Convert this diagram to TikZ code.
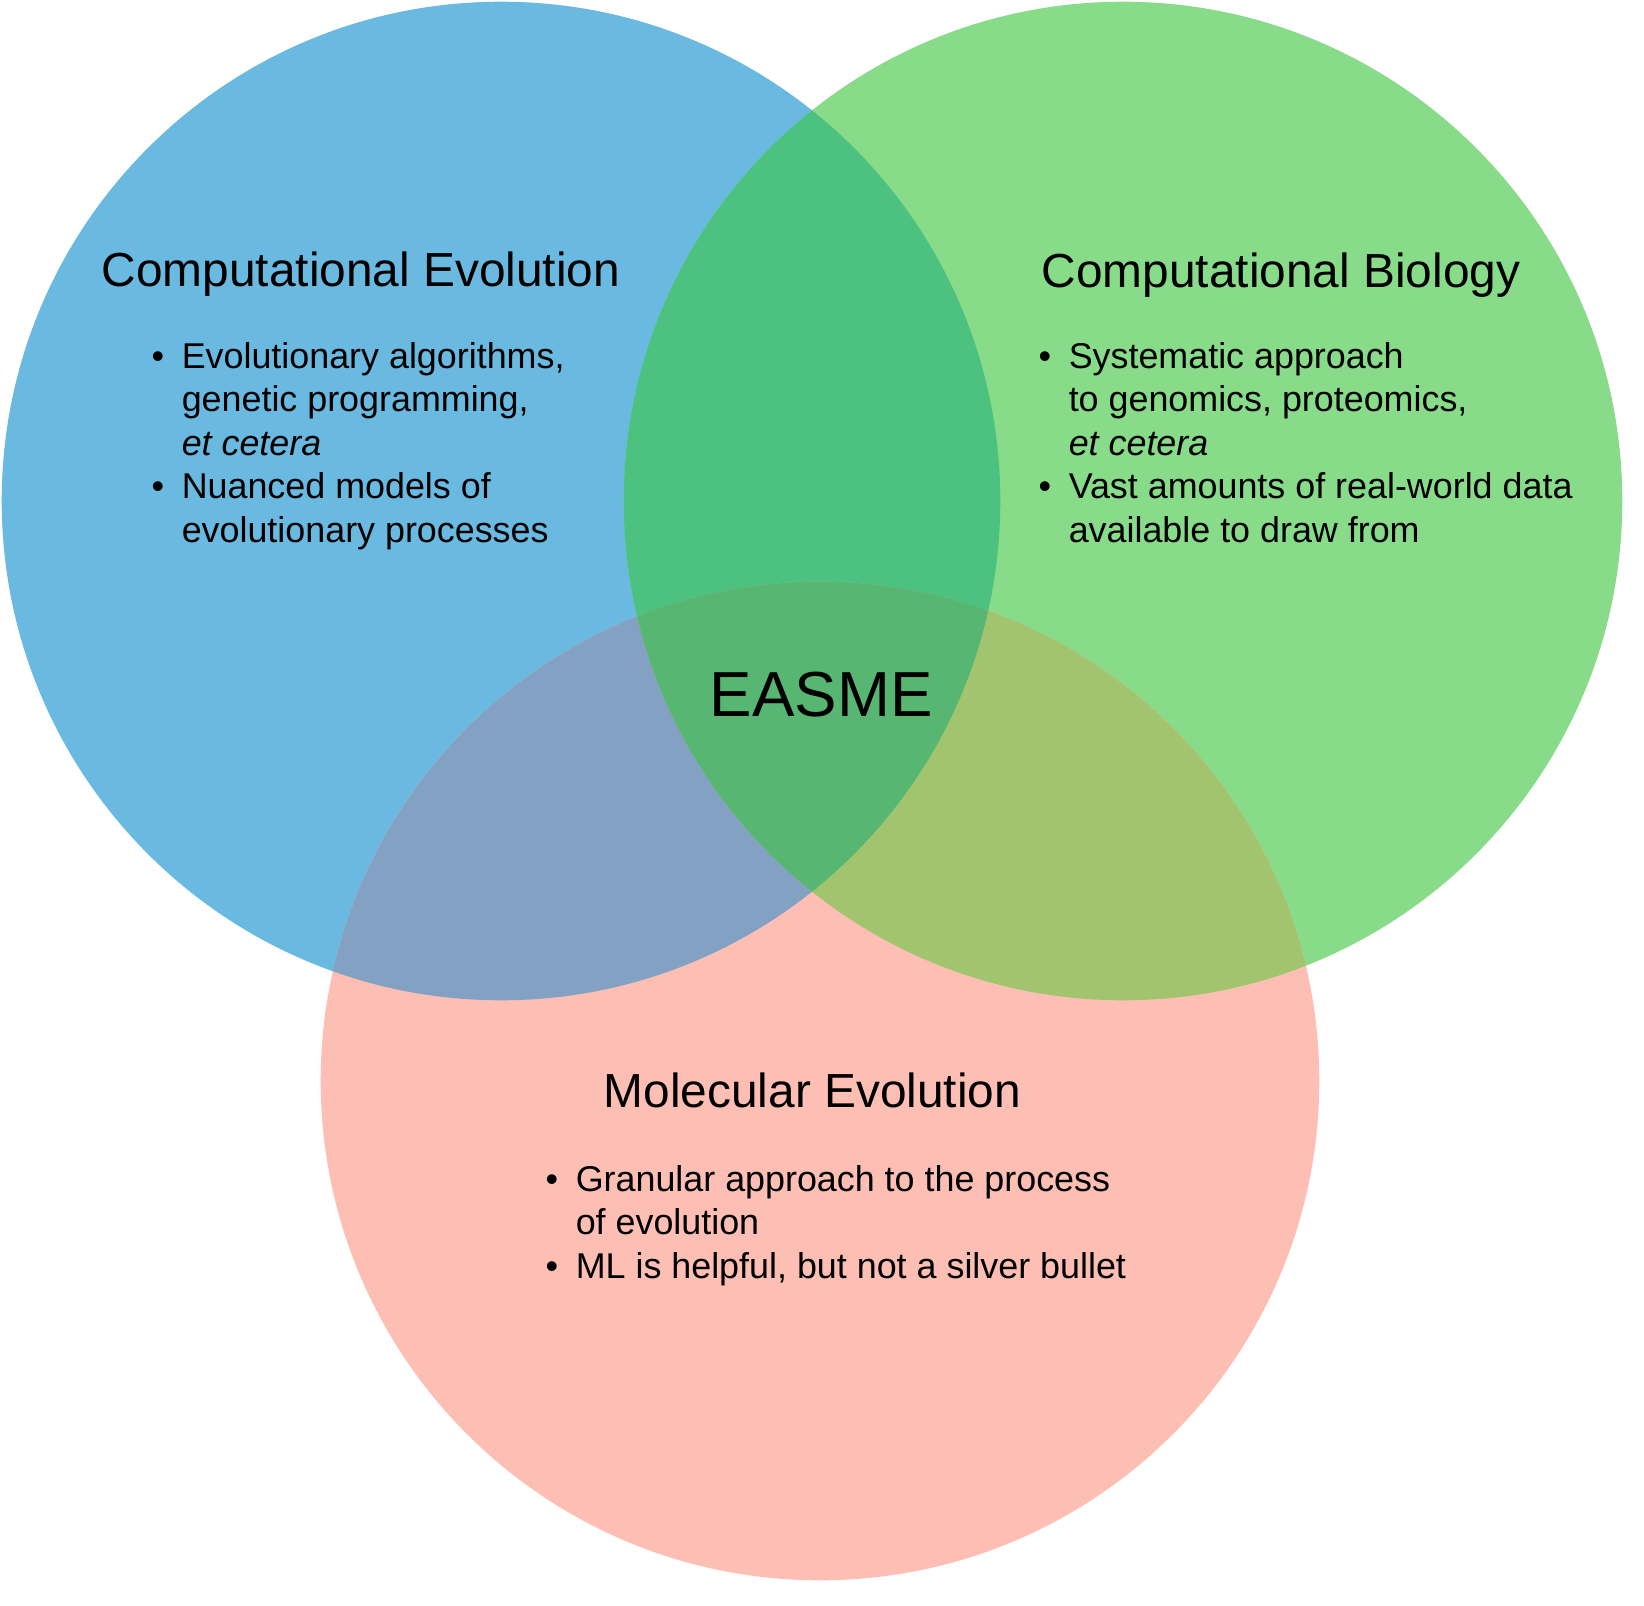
\documentclass[tikz,border=0pt]{standalone}
\usepackage{fontspec}
\setmainfont{Liberation Sans}
\usetikzlibrary{positioning}

\definecolor{evoblue}{HTML}{69B9E0}
\definecolor{biogreen}{HTML}{88DB88}
\definecolor{molpink}{HTML}{FDBFB4}
\definecolor{evobio}{HTML}{4DC17F}
\definecolor{evomol}{HTML}{83A1C3}
\definecolor{biomol}{HTML}{A2C46F}
\definecolor{allthree}{HTML}{57B672}

\newcommand{\evocircle}{(501,501) circle (4.99cm)}
\newcommand{\biocircle}{(1123,501) circle (4.99cm)}
\newcommand{\molcircle}{(820,1081) circle (4.99cm)}

\begin{document}
\begin{tikzpicture}[
    x=0.01cm,
    y=-0.01cm,
    heading/.style={
        anchor=base west,
        inner sep=0pt,
        font=\fontsize{13.6pt}{16pt}\selectfont
    },
    points/.style={
        anchor=base west,
        inner sep=0pt,
        font=\fontsize{10.2pt}{12.38pt}\selectfont
    },
    core/.style={
        anchor=base west,
        inner sep=0pt,
        font=\fontsize{18.1pt}{21pt}\selectfont
    }
]

\useasboundingbox (0,0) rectangle (1644,1606);

% the three sets
\fill[evoblue] \evocircle;
\fill[biogreen] \biocircle;
\fill[molpink] \molcircle;

% overlaps
\begin{scope}
    \clip \evocircle;
    \fill[evobio] \biocircle;
    \fill[evomol] \molcircle;
\end{scope}
\begin{scope}
    \clip \biocircle;
    \fill[biomol] \molcircle;
\end{scope}
\begin{scope}
    \clip \evocircle;
    \clip \biocircle;
    \fill[allthree] \molcircle;
\end{scope}

% labels
\node[heading] (evotitle) at (101,286) {Computational Evolution};
\node[points] (evolist) at (151,368) {%
    \begin{tabular}[t]{@{}l@{\hspace{0.175cm}}l@{}}
    \textbullet & Evolutionary algorithms,\\
                & genetic programming,\\
                & \textit{et cetera}\\
    \textbullet & Nuanced models of\\
                & evolutionary processes
    \end{tabular}};

\node[heading] (biotitle) at (1041,287) {Computational Biology};
\node[points] (biolist) at (1038,368) {%
    \begin{tabular}[t]{@{}l@{\hspace{0.175cm}}l@{}}
    \textbullet & Systematic approach\\
                & to genomics, proteomics,\\
                & \textit{et cetera}\\
    \textbullet & Vast amounts of real-world data\\
                & available to draw from
    \end{tabular}};

\node[heading] (moltitle) at (603,1107) {Molecular Evolution};
\node[points] (mollist) at (545,1191) {%
    \begin{tabular}[t]{@{}l@{\hspace{0.175cm}}l@{}}
    \textbullet & Granular approach to the process\\
                & of evolution\\
    \textbullet & ML is helpful, but not a silver bullet
    \end{tabular}};

\node[core] (easme) at (709,716) {EASME};

\end{tikzpicture}
\end{document}
